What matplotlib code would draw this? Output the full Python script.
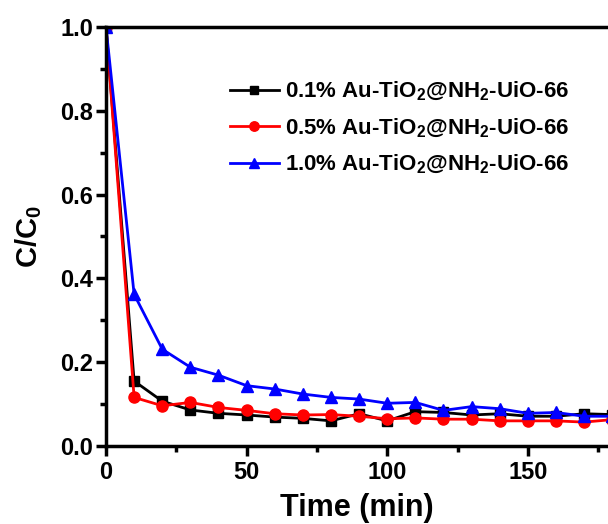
import matplotlib
matplotlib.use("Agg")
import matplotlib.pyplot as plt
from matplotlib.ticker import MultipleLocator, FormatStrFormatter

plt.rcParams['font.family'] = ['Liberation Sans', 'DejaVu Sans']
plt.rcParams['font.weight'] = 'bold'
plt.rcParams['mathtext.fontset'] = 'custom'
plt.rcParams['mathtext.rm'] = 'Liberation Sans:bold'
plt.rcParams['mathtext.it'] = 'Liberation Sans:bold'
plt.rcParams['mathtext.bf'] = 'Liberation Sans:bold'

time_min = [0, 10, 20, 30, 40, 50, 60, 70, 80, 90, 100, 110, 120, 130, 140, 150, 160, 170, 180]

au_01 = [1.0, 0.155, 0.107, 0.086, 0.078, 0.074, 0.069, 0.066, 0.060, 0.077, 0.060,
         0.082, 0.080, 0.074, 0.077, 0.071, 0.071, 0.077, 0.075]
au_05 = [1.0, 0.116, 0.096, 0.104, 0.092, 0.085, 0.077, 0.074, 0.075, 0.071, 0.065,
         0.067, 0.064, 0.064, 0.060, 0.060, 0.060, 0.057, 0.063]
au_10 = [1.0, 0.362, 0.231, 0.188, 0.169, 0.144, 0.136, 0.124, 0.116, 0.112, 0.102,
         0.104, 0.085, 0.094, 0.089, 0.078, 0.080, 0.071, 0.071]

labels = [r'0.1% Au-TiO$_2$@NH$_2$-UiO-66',
          r'0.5% Au-TiO$_2$@NH$_2$-UiO-66',
          r'1.0% Au-TiO$_2$@NH$_2$-UiO-66']

fig = plt.figure(figsize=(6.08, 5.24), dpi=100)
ax = fig.add_axes([106 / 608, 78 / 524, 1 - 106 / 608, 419 / 524])

ax.plot(time_min, au_01, color='black', marker='s', markersize=7, linewidth=2, label=labels[0])
ax.plot(time_min, au_05, color='red', marker='o', markersize=8, linewidth=2, label=labels[1])
ax.plot(time_min, au_10, color='blue', marker='^', markersize=9, linewidth=2, label=labels[2])

ax.set_xlim(0, 178.5)
ax.set_ylim(0, 1.0)
ax.xaxis.set_major_locator(MultipleLocator(50))
ax.xaxis.set_minor_locator(MultipleLocator(25))
ax.yaxis.set_major_locator(MultipleLocator(0.2))
ax.yaxis.set_minor_locator(MultipleLocator(0.1))
ax.yaxis.set_major_formatter(FormatStrFormatter('%.1f'))

for side in ['left', 'bottom', 'top']:
    ax.spines[side].set_linewidth(2.5)
ax.spines['right'].set_visible(False)
ax.tick_params(which='major', direction='out', length=7, width=2.5, labelsize=17, pad=2)
ax.tick_params(axis='x', which='major', pad=4)
ax.tick_params(which='minor', direction='out', length=4, width=2.5)
ax.tick_params(top=False, right=False)
for lbl in ax.get_xticklabels() + ax.get_yticklabels():
    lbl.set_fontweight('bold')

ax.set_xlabel('Time (min)', fontsize=22, fontweight='bold', labelpad=6)
ax.set_ylabel(r'C/C$_0$', fontsize=21, fontweight='bold', labelpad=12)

leg = ax.legend(loc='upper left', bbox_to_anchor=(0.229, 0.895), frameon=False,
                fontsize=16, handlelength=2.2, handletextpad=0.3, labelspacing=0.6,
                borderaxespad=0, markerscale=0.85)
for t in leg.get_texts():
    t.set_fontweight('bold')

fig.savefig('out.png', dpi=100)
